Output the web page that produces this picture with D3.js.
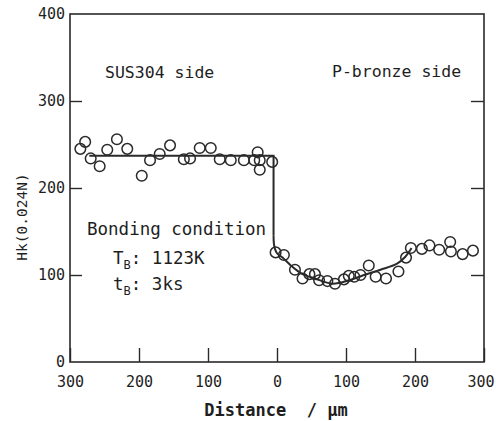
<!DOCTYPE html>
<html>
<head>
<meta charset="utf-8">
<script src="https://cdn.jsdelivr.net/npm/d3@7"></script>
<style>
  html, body { margin: 0; padding: 0; background: #ffffff; }
  svg { display: block; }
  text { font-family: "DejaVu Sans Mono", "Liberation Mono", monospace; fill: #1e1e1e; }
</style>
</head>
<body>
<svg id="chart" width="496" height="421"></svg>
<script>
// ---- data (distance in µm; negative = SUS304 side, positive = P-bronze side) ----
const susDistance = [-285, -278, -270, -257, -246, -232, -217, -196, -184, -170, -155, -135, -126, -112, -96, -83, -67, -48, -33, -28, -25, -25, -7];
const susHk       = [245, 253, 234, 225, 244, 256, 245, 214, 232, 239, 249, 233, 234, 246, 246, 233, 232, 232, 232, 241, 232, 221, 230];

const bronzeDistance = [-2, 10, 26, 37, 47, 55, 61, 73, 84, 97, 104, 112, 121, 133, 143, 158, 176, 187, 194, 210, 221, 235, 251, 252, 269, 284];
const bronzeHk       = [126, 123, 106, 96, 101, 101, 94, 93, 90, 95, 99, 98, 100, 111, 98, 96, 104, 120, 131, 130, 134, 129, 138, 127, 124, 128];

// fitted trend lines drawn in the figure
const stepLineDistance = [-272, -5, -5];
const stepLineHk       = [237, 237, 145];
const curveDistance = [-5, -4.5, -3, 0, 8, 20, 35, 55, 80, 105, 126, 150, 174, 186, 195];
const curveHk       = [145, 136, 130, 125, 120, 111, 102, 96, 90, 94, 100, 106, 113, 121, 131];

const xTickValues = [-300, -200, -100, 0, 100, 200, 300];
const yTickValues = [0, 100, 200, 300, 400];
const yInnerTicks = [100, 200, 300];

// ---- layout ----
const svg = d3.select("#chart");
const mLeft = 70, mRight = 484, mTop = 14, mBottom = 362;
const x = d3.scaleLinear().domain([-300, 300]).range([mLeft, mRight]);
const y = d3.scaleLinear().domain([0, 400]).range([mBottom, mTop]);
const ink = "#2a2a2a";

// axes
const xAxis = d3.axisBottom(x).tickValues(xTickValues)
  .tickFormat(d => Math.abs(d)).tickSizeInner(-14).tickSizeOuter(0).tickPadding(14);
const gx = svg.append("g").attr("transform", `translate(0,${mBottom})`).call(xAxis);
gx.select(".domain").remove();
gx.selectAll("line").attr("stroke", ink).attr("stroke-width", 1.4);
gx.selectAll("text").attr("font-size", 15).attr("fill", "#1e1e1e");
gx.selectAll(".tick").filter(d => d === 300).select("text")
  .attr("text-anchor", "end").attr("x", 10);

const yAxis = d3.axisLeft(y).tickValues(yTickValues).tickSizeInner(-12).tickSizeOuter(0).tickPadding(5);
const gy = svg.append("g").attr("transform", `translate(${mLeft},0)`).call(yAxis);
gy.select(".domain").remove();
gy.selectAll(".tick").filter(d => !yInnerTicks.includes(d)).select("line").remove();
gy.selectAll("line").attr("stroke", ink).attr("stroke-width", 1.4);
gy.selectAll("text").attr("font-size", 15).attr("fill", "#1e1e1e");

const yAxisR = d3.axisRight(y).tickValues(yInnerTicks).tickSizeInner(-13).tickSizeOuter(0).tickFormat("");
const gyr = svg.append("g").attr("transform", `translate(${mRight},0)`).call(yAxisR);
gyr.select(".domain").remove();
gyr.selectAll("line").attr("stroke", ink).attr("stroke-width", 1.4);

// frame
svg.append("rect").attr("x", mLeft).attr("y", mTop)
  .attr("width", mRight - mLeft).attr("height", mBottom - mTop)
  .attr("fill", "none").attr("stroke", ink).attr("stroke-width", 1.6);

// trend lines
const stepPts = stepLineDistance.map((d, i) => [d, stepLineHk[i]]);
svg.append("path").datum(stepPts)
  .attr("d", d3.line().x(d => x(d[0])).y(d => y(d[1])))
  .attr("fill", "none").attr("stroke", ink).attr("stroke-width", 2);
const curvePts = curveDistance.map((d, i) => [d, curveHk[i]]);
svg.append("path").datum(curvePts)
  .attr("d", d3.line().x(d => x(d[0])).y(d => y(d[1])).curve(d3.curveCatmullRom.alpha(0.5)))
  .attr("fill", "none").attr("stroke", ink).attr("stroke-width", 2);

// points
const pts = susDistance.map((d, i) => [d, susHk[i]])
  .concat(bronzeDistance.map((d, i) => [d, bronzeHk[i]]));
svg.append("g").selectAll("circle").data(pts).join("circle")
  .attr("cx", d => x(d[0])).attr("cy", d => y(d[1])).attr("r", 5.3)
  .attr("fill", "none").attr("stroke", ink).attr("stroke-width", 1.5);

// labels
svg.append("text").attr("x", 105).attr("y", 78).attr("font-size", 16.5).text("SUS304 side");
svg.append("text").attr("x", 332).attr("y", 77).attr("font-size", 16.5).text("P-bronze side");
svg.append("text").attr("x", 87).attr("y", 235).attr("font-size", 17.5).text("Bonding condition");

const t1 = svg.append("text").attr("x", 113).attr("y", 264).attr("font-size", 17.5);
t1.append("tspan").text("T");
t1.append("tspan").attr("font-size", 12).attr("dy", 5).text("B");
t1.append("tspan").attr("dy", -5).text(": 1123K");

const t2 = svg.append("text").attr("x", 113).attr("y", 290).attr("font-size", 17.5);
t2.append("tspan").text("t");
t2.append("tspan").attr("font-size", 12).attr("dy", 5).text("B");
t2.append("tspan").attr("dy", -5).text(": 3ks");

// axis titles
svg.append("text").attr("x", 276).attr("y", 416).attr("text-anchor", "middle")
  .attr("font-size", 17).attr("font-weight", "bold")
  .style("white-space", "pre").text("Distance  / μm");
svg.append("text").attr("transform", "translate(27,217) rotate(-90)")
  .attr("text-anchor", "middle").attr("font-size", 14.5).text("Hk(0.024N)");
</script>
</body>
</html>
